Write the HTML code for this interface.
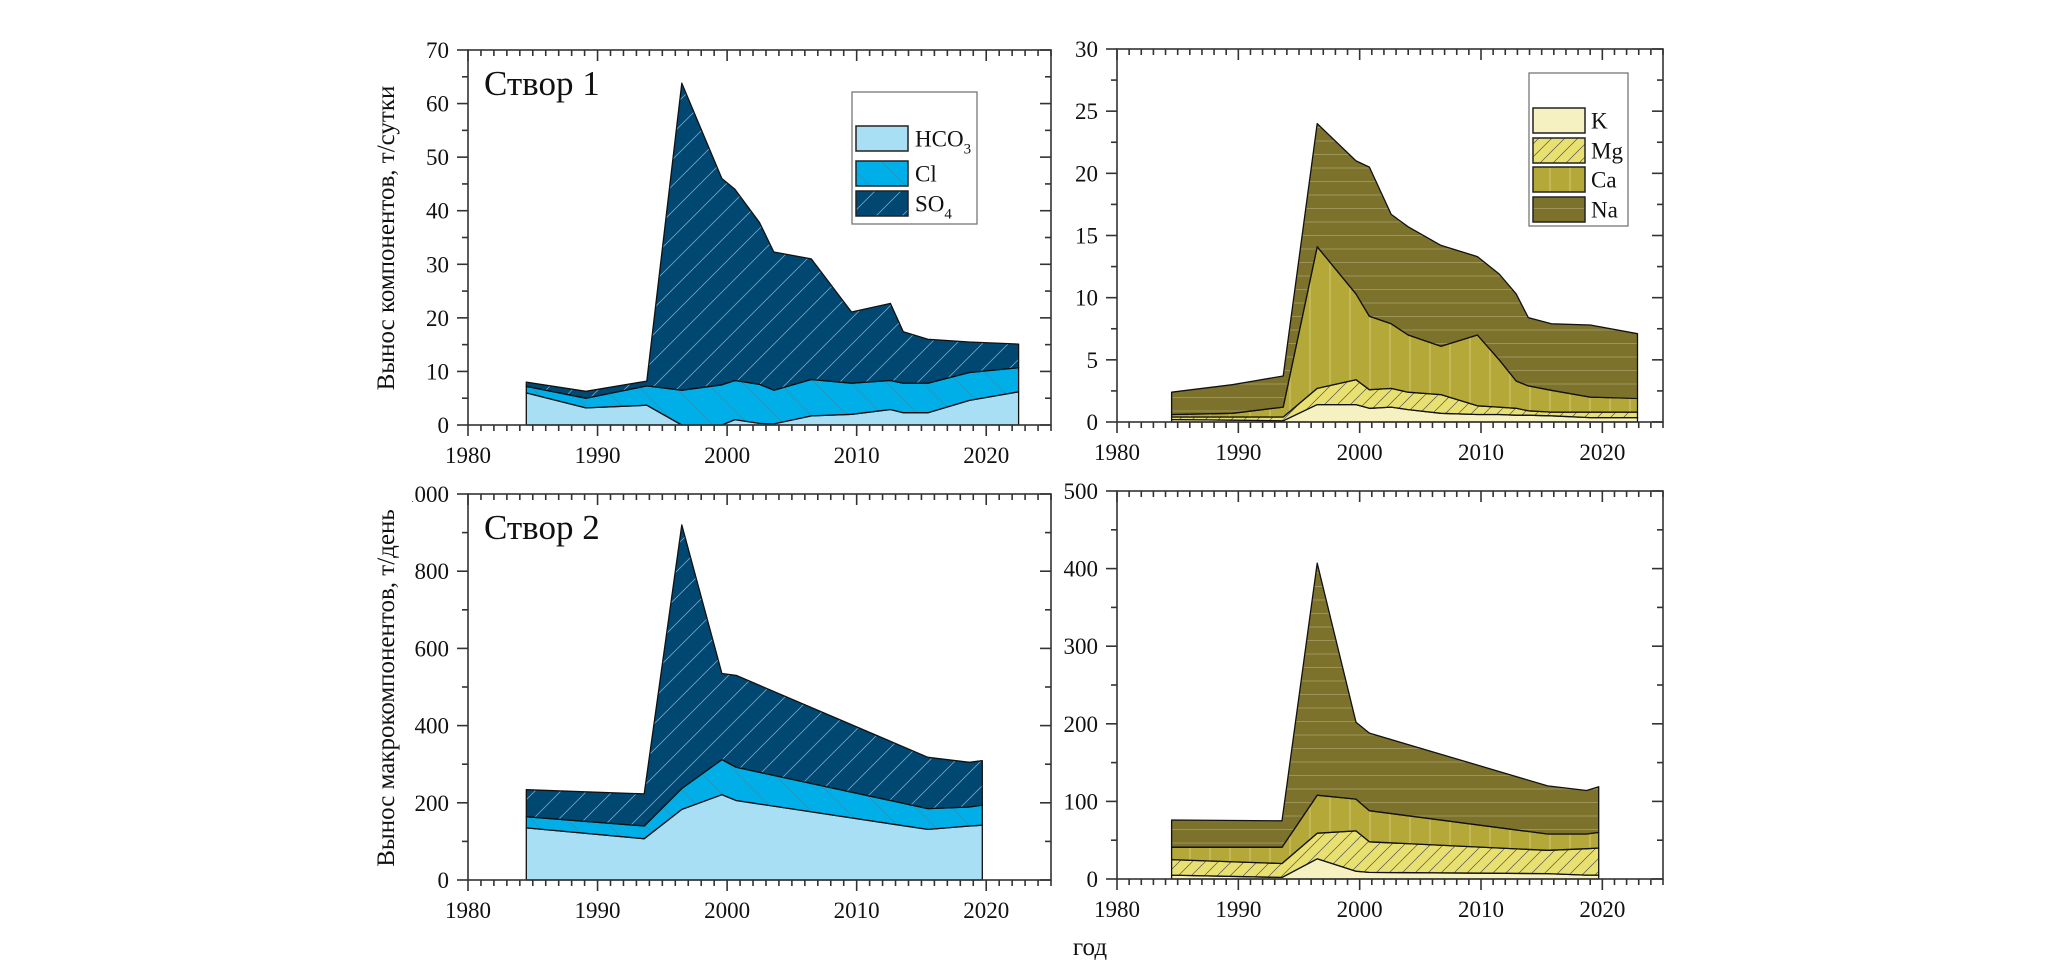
<!DOCTYPE html>
<html><head><meta charset="utf-8"><style>
html,body{margin:0;padding:0;background:#fff;}
svg{display:block;font-family:"Liberation Serif",serif;}
</style></head><body>
<svg id="fig" width="2055" height="974" viewBox="0 0 2055 974" xmlns="http://www.w3.org/2000/svg">
<defs>
<pattern id="pSO4" patternUnits="userSpaceOnUse" width="26" height="26"><rect width="26" height="26" fill="#004771"/><path d="M0,26 L26,0 M-13,13 L13,-13 M13,39 L39,13" stroke="#7f9fb6" stroke-width="0.8"/></pattern>
<pattern id="pCl" patternUnits="userSpaceOnUse" width="36" height="36"><rect width="36" height="36" fill="#00aee8"/><path d="M0,0 L36,36 M-18,18 L18,54 M18,-18 L54,18" stroke="#2a8fb5" stroke-width="0.6"/></pattern>
<pattern id="pMg" patternUnits="userSpaceOnUse" width="13" height="13"><rect width="13" height="13" fill="#e8e070"/><path d="M0,13 L13,0 M-6.5,6.5 L6.5,-6.5 M6.5,19.5 L19.5,6.5" stroke="#555" stroke-width="0.7"/></pattern>
<pattern id="pCa" patternUnits="userSpaceOnUse" width="20" height="20"><rect width="20" height="20" fill="#b3a838"/><path d="M10,0 L10,20" stroke="#d8d08a" stroke-width="0.8"/></pattern>
<pattern id="pNa" patternUnits="userSpaceOnUse" width="20" height="13.5"><rect width="20" height="13.5" fill="#7d722c"/><path d="M0,6 L20,6" stroke="#a89f68" stroke-width="0.8"/></pattern>
<clipPath id="clipLbl"><rect x="412" y="470" width="60" height="50"/></clipPath>
</defs>
<g id="root"></g>
</svg>
<script>
// ---- Panel A (Створ 1, anions) ----
const yearsA = [1984.5,1989.1,1993.8,1996.5,1999.6,2000.6,2002.5,2003.6,2006.5,2009.6,2012.6,2013.6,2015.5,2018.7,2022.5];
const hco3A = [6.0,3.2,3.7,0,0,1.0,0.3,0.2,1.7,2.0,2.9,2.3,2.3,4.6,6.2];
const clA = [1.2,1.8,3.6,6.5,7.5,7.3,7.3,6.3,6.8,5.8,5.4,5.5,5.5,5.2,4.5];
const so4A = [0.8,1.3,0.9,57.3,38.5,35.7,30.2,25.8,22.5,13.3,14.4,9.6,8.2,5.7,4.4];
const yTicksA = [0,10,20,30,40,50,60,70];
// ---- Panel B (Створ 1, cations) ----
const yearsB = [1984.5,1989.5,1993.7,1996.5,1999.7,2000.8,2002.6,2004,2006.7,2009.7,2011.5,2012.9,2013.9,2015.8,2019,2022.9];
const kB = [0.2,0.15,0.1,1.4,1.4,1.1,1.2,1.0,0.7,0.6,0.6,0.55,0.55,0.5,0.35,0.35];
const mgB = [0.2,0.25,0.3,1.3,2.0,1.5,1.5,1.4,1.5,0.7,0.6,0.55,0.35,0.3,0.45,0.45];
const caB = [0.2,0.3,0.8,11.4,6.9,5.9,5.2,4.6,3.9,5.7,3.8,2.2,2.0,1.75,1.2,1.1];
const naB = [1.8,2.3,2.5,9.9,10.7,12.0,8.8,8.7,8.1,6.3,6.9,7.0,5.5,5.35,5.8,5.2];
const yTicksB = [0,5,10,15,20,25,30];
// ---- Panel C (Створ 2, anions) ----
const yearsC = [1984.5,1993.6,1996.5,1999.6,2000.7,2015.5,2018.7,2019.7];
const hco3C = [135,107,183,221,206,131,140,142];
const clC = [29,33,54,91,86,54,49,52];
const so4C = [70,83,683,223,238,133,116,115];
const yTicksC = [0,200,400,600,800,1000];
// ---- Panel D (Створ 2, cations) ----
const yearsD = [1984.5,1993.6,1996.5,1999.7,2000.8,2015.5,2018.7,2019.7];
const kD = [5,2,26,10,8.5,7,5,5];
const mgD = [20,18,33,52,39.5,30,34,35];
const caD = [16,21,49,41,40,21,19,20];
const naD = [35,34,299,99,100,62,56,59];
const yTicksD = [0,100,200,300,400,500];
const xTicks = [1980,1990,2000,2010,2020];

const NS = "http://www.w3.org/2000/svg";
const root = document.getElementById('root');
function mk(tag, attrs, parent){const e=document.createElementNS(NS,tag);for(const k in attrs)e.setAttribute(k,attrs[k]);(parent||root).appendChild(e);return e;}

function panel(cfg){
  const g = mk('g',{});
  
  
  const {x0,x1,y0,y1,ymax,minorY} = cfg;
  const X = yr => x0 + (yr-1980)/45*(x1-x0);
  const Y = v => y1 - v/ymax*(y1-y0);
  let base = cfg.years.map(()=>0);
  cfg.series.forEach(s=>{
    const top = base.map((b,i)=>b+s.vals[i]);
    let d = 'M'+cfg.years.map((yr,i)=>X(yr).toFixed(1)+','+Y(top[i]).toFixed(1)).join(' L');
    for(let i=cfg.years.length-1;i>=0;i--) d+=' L'+X(cfg.years[i]).toFixed(1)+','+Y(base[i]).toFixed(1);
    d+='Z';
    const p = mk('path',{d:d,fill:s.fill,stroke:'#111','stroke-width':1.3,'stroke-linejoin':'round'},g);
    
    
    base = top;
  });
  const ax = mk('g',{stroke:'#333','stroke-width':1.6,fill:'none'},g);
  
  
  mk('rect',{x:x0,y:y0,width:x1-x0,height:y1-y0},ax);
  for(let yr=1980; yr<=2025; yr++){
    const major = yr%10===0, xx=X(yr);
    const L = major?11:6;
    mk('line',{x1:xx,y1:y1,x2:xx,y2:y1+L},ax);
    mk('line',{x1:xx,y1:y0,x2:xx,y2:y0+L},ax);
  }
  for(let v=0; v<=ymax+1e-9; v+=minorY){
    const yy=Y(v), major = cfg.yTicks.some(t=>Math.abs(t-v)<1e-6);
    const L = major?11:6;
    mk('line',{x1:x0,y1:yy,x2:x0-L,y2:yy},ax);
    mk('line',{x1:x1,y1:yy,x2:x1-L,y2:yy},ax);
  }
  xTicks.forEach(t=>{
    const tx = mk('text',{x:X(t),y:y1+38,'text-anchor':'middle','font-size':23,fill:'#111'},g);
    tx.textContent=t;
    
    
  });
  cfg.yTicks.forEach(t=>{
    const attrs = {x:x0-19,y:Y(t)+8,'text-anchor':'end','font-size':23,fill:'#111'};
    if(cfg.clipTop && t===ymax) attrs['clip-path']='url(#clipLbl)';
    const tx = mk('text',attrs,g);
    tx.textContent=t;
    
    
  });
  if(cfg.title){
    const tt = mk('text',{x:x0+16,y:y0+45,'font-size':35,fill:'#111'},g);
    tt.textContent = cfg.title;
    
    
  }
}

panel({name:'panel-stvor1-anions',x0:468,x1:1051,y0:50,y1:425,ymax:70,minorY:5,yTicks:yTicksA,years:yearsA,title:'Створ 1',
  series:[{key:'hco3',vals:hco3A,fill:'#a9dff4'},{key:'cl',vals:clA,fill:'url(#pCl)'},{key:'so4',vals:so4A,fill:'url(#pSO4)'}]});
panel({name:'panel-stvor1-cations',x0:1117,x1:1663,y0:49,y1:422,ymax:30,minorY:2.5,yTicks:yTicksB,years:yearsB,
  series:[{key:'k',vals:kB,fill:'#f5f1c0'},{key:'mg',vals:mgB,fill:'url(#pMg)'},{key:'ca',vals:caB,fill:'url(#pCa)'},{key:'na',vals:naB,fill:'url(#pNa)'}]});
panel({name:'panel-stvor2-anions',x0:468,x1:1051,y0:494,y1:880,ymax:1000,minorY:100,yTicks:yTicksC,years:yearsC,title:'Створ 2',clipTop:true,
  series:[{key:'hco3',vals:hco3C,fill:'#a9dff4'},{key:'cl',vals:clC,fill:'url(#pCl)'},{key:'so4',vals:so4C,fill:'url(#pSO4)'}]});
panel({name:'panel-stvor2-cations',x0:1117,x1:1663,y0:491,y1:879,ymax:500,minorY:50,yTicks:yTicksD,years:yearsD,
  series:[{key:'k',vals:kD,fill:'#f5f1c0'},{key:'mg',vals:mgD,fill:'url(#pMg)'},{key:'ca',vals:caD,fill:'url(#pCa)'},{key:'na',vals:naD,fill:'url(#pNa)'}]});

function legend(name,bx,by,bw,bh,sx,sw,rows,lx){
  const g = mk('g',{});
  
  
  mk('rect',{x:bx,y:by,width:bw,height:bh,fill:'#fff',stroke:'#777','stroke-width':1.3},g);
  rows.forEach(r=>{
    const s = mk('rect',{x:sx,y:r.y,width:sw,height:r.h,fill:r.fill,stroke:'#222','stroke-width':1.5},g);
    
    
    const t = mk('text',{x:lx,y:r.y+r.h/2+8,'font-size':23,fill:'#111'},g);
    t.innerHTML = r.label;
    
    
  });
}
legend('legend-anions',852,92,125,132,856,52,[
  {key:'hco3',y:126,h:25,fill:'#a9dff4',label:'HCO<tspan font-size="15" dy="7">3</tspan>'},
  {key:'cl',y:161,h:25,fill:'url(#pCl)',label:'Cl'},
  {key:'so4',y:191,h:25,fill:'url(#pSO4)',label:'SO<tspan font-size="15" dy="7">4</tspan>'}],915);
legend('legend-cations',1529,73,99,153,1533,52,[
  {key:'k',y:108,h:25,fill:'#f5f1c0',label:'K'},
  {key:'mg',y:138,h:25,fill:'url(#pMg)',label:'Mg'},
  {key:'ca',y:167,h:25,fill:'url(#pCa)',label:'Ca'},
  {key:'na',y:197,h:25,fill:'url(#pNa)',label:'Na'}],1591);

function txt(name,attrs,s){const t=mk('text',attrs);t.textContent=s;}
txt('y-axis-title-top',{x:0,y:0,'font-size':25,fill:'#111','text-anchor':'middle',transform:'translate(394,238) rotate(-90)'},'Вынос компонентов, т/сутки');
txt('y-axis-title-bottom',{x:0,y:0,'font-size':25,fill:'#111','text-anchor':'middle',transform:'translate(394,688) rotate(-90)'},'Вынос макрокомпонентов, т/день');
txt('x-axis-title',{x:1090,y:955,'font-size':25,fill:'#111','text-anchor':'middle'},'год');
</script>
</body></html>
